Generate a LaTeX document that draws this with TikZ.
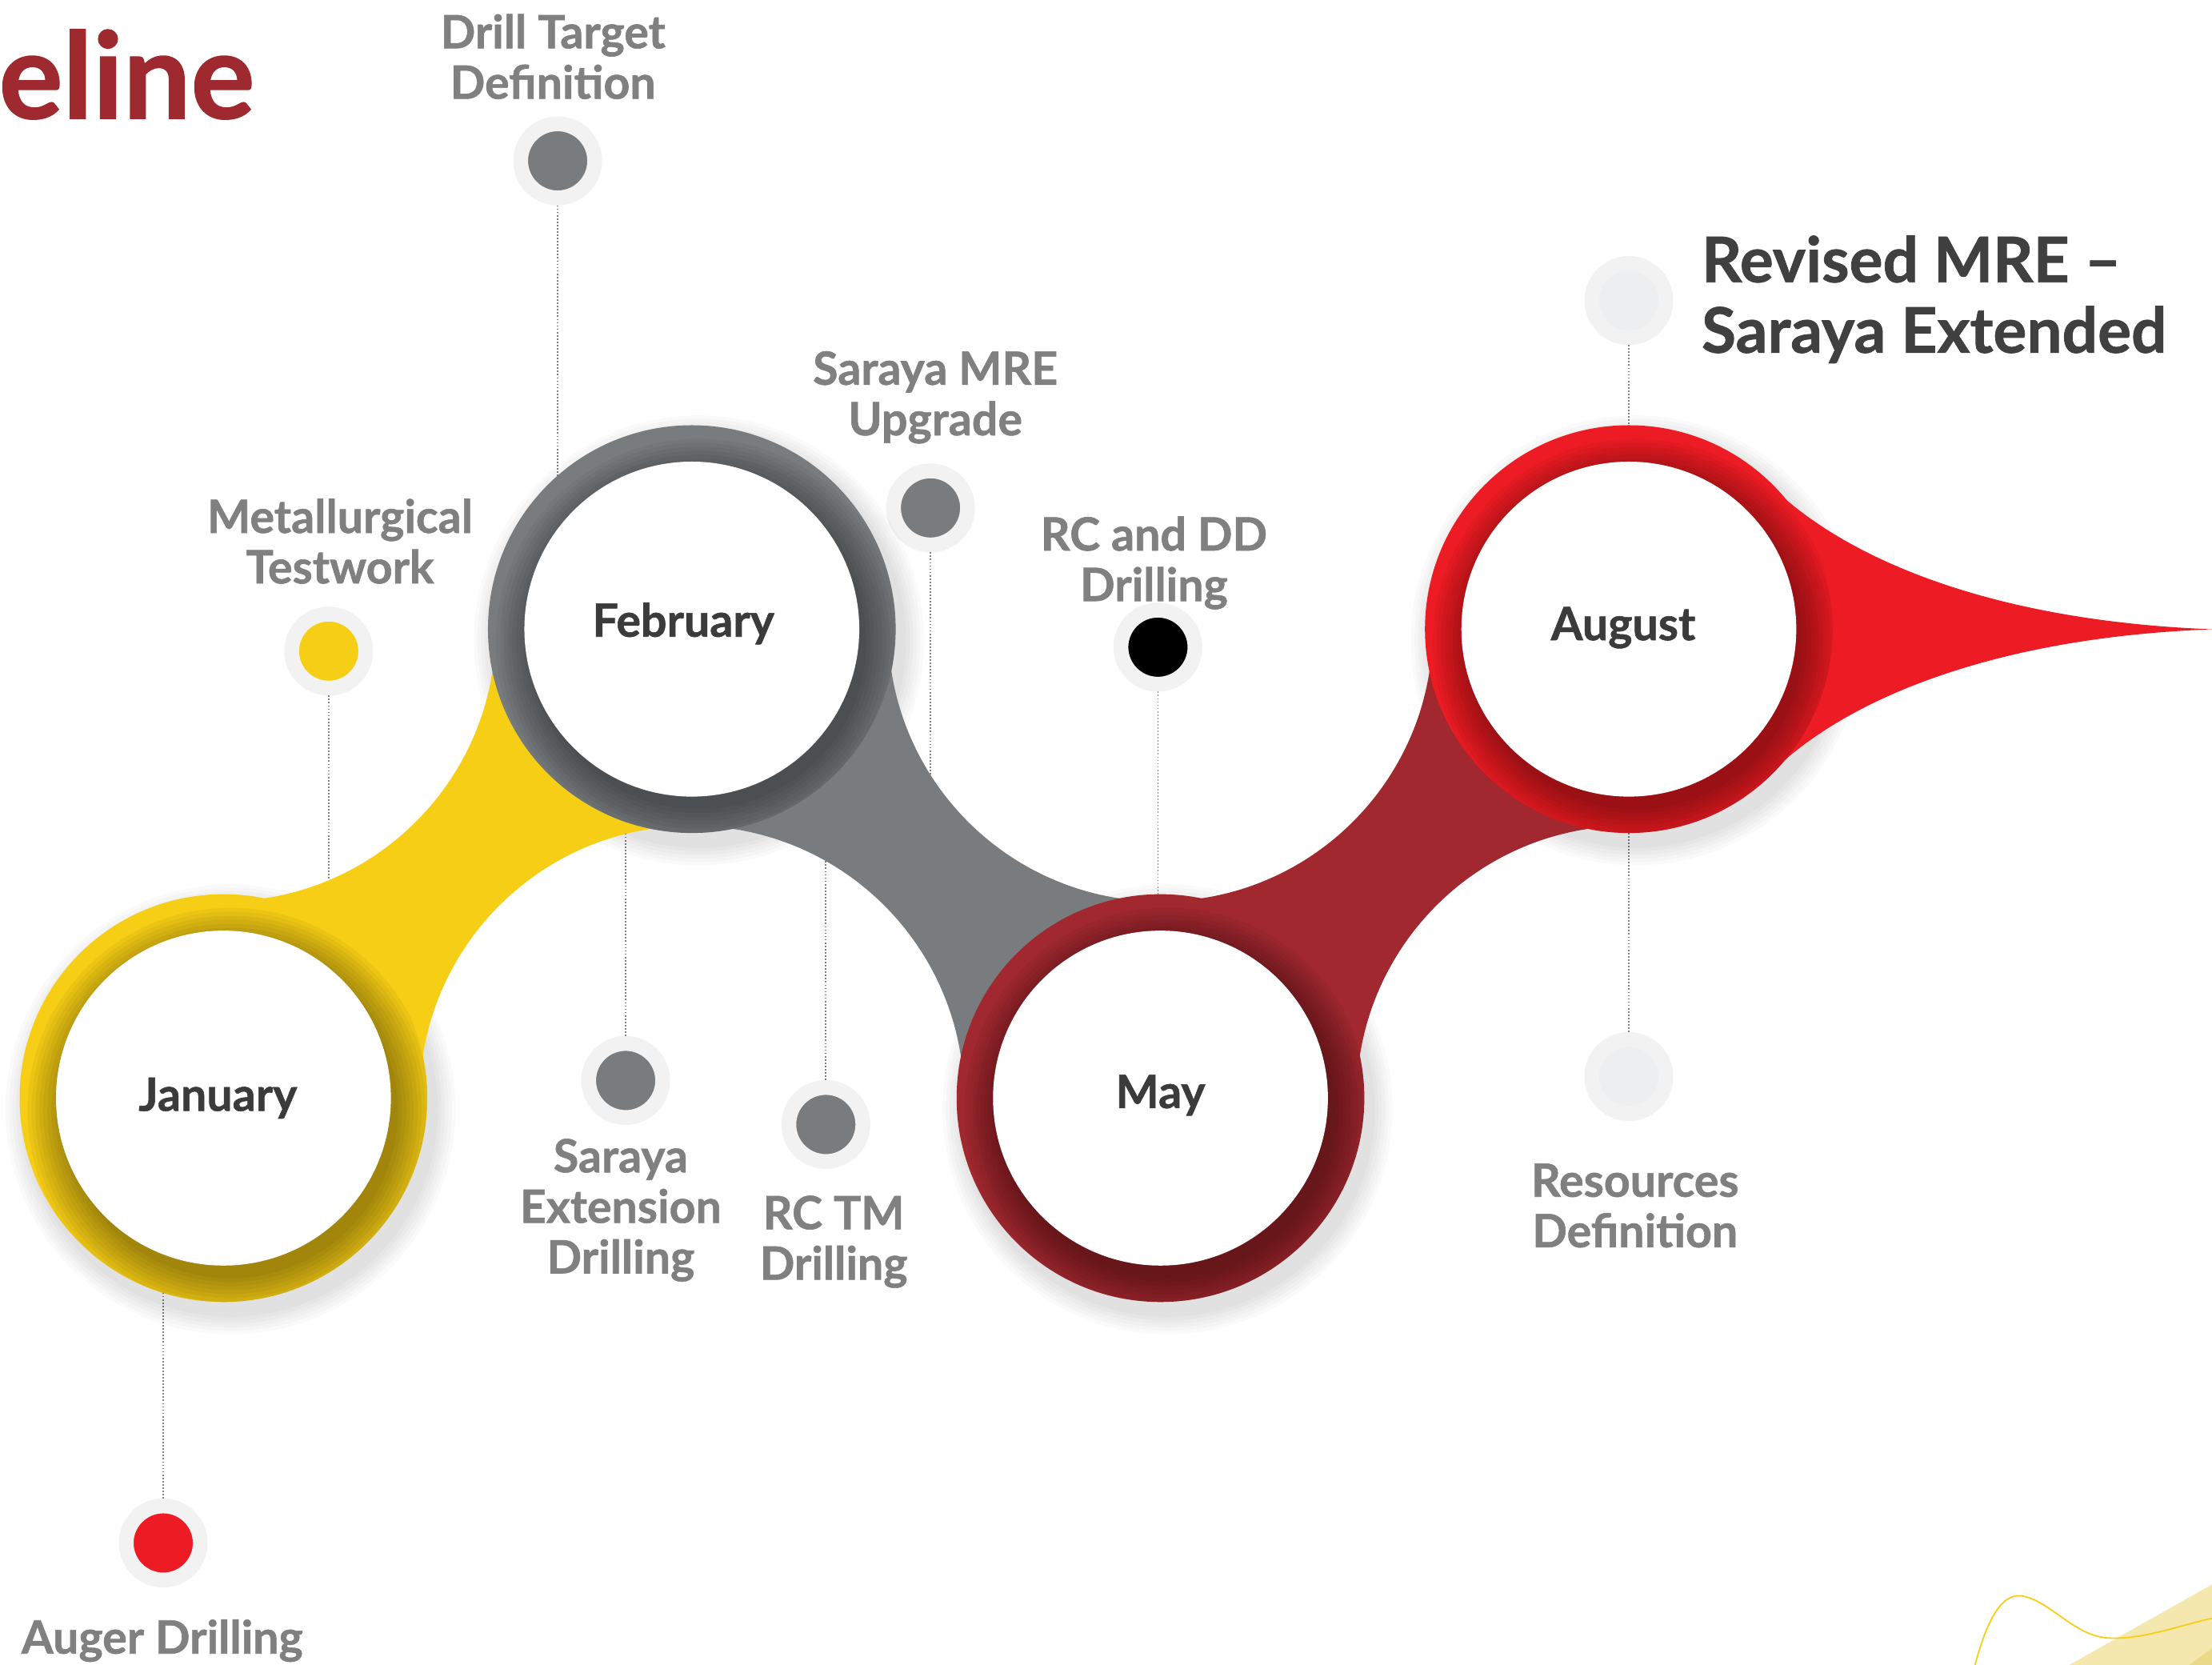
\documentclass[tikz,border=0pt]{standalone}
\usepackage{fontspec}
\setmainfont{Lato}[BoldFeatures={FakeBold=1}]
\usetikzlibrary{calc}
\definecolor{tlyellow}{HTML}{F6CE15}
\definecolor{tlgrey}{HTML}{787C7E}
\definecolor{tlmaroon}{HTML}{A0282E}
\definecolor{tlred}{HTML}{ED1C24}
\definecolor{titlered}{HTML}{9E2A2F}
\definecolor{lblgrey}{HTML}{808080}
\definecolor{monthtext}{HTML}{3B3B3B}
\definecolor{headtext}{HTML}{404040}
\definecolor{halogrey}{HTML}{F2F2F2}
\definecolor{palegrey}{HTML}{EDEEF0}
\definecolor{paleyellow}{HTML}{F4E8AE}
\definecolor{sandyellow}{HTML}{EBD98A}
\tikzset{
	disc/.style={circle,fill=white,minimum size=237.4pt,inner sep=0},
	monthlbl/.style={inner sep=0,text=monthtext,font=\bfseries\fontsize{32.5}{36}\selectfont},
	halo/.style={circle,draw=halogrey,line width=10.5pt,fill=#1,minimum size=52.5pt,inner sep=0},
	lbl/.style={text=lblgrey,align=center,inner sep=0,anchor=base,font=\bfseries\fontsize{32.5}{35.8}\selectfont},
	leader/.style={lblgrey,dash pattern=on 1pt off 1.3pt,line width=1pt}
}
\begin{document}
\begin{tikzpicture}[x=1pt,y=-1pt]
	\def\R{144.5}
	\def\G{193}
	\useasboundingbox (0,0) rectangle (1568,1180);
	\fill[white] (0,0) rectangle (1568,1180);
	\coordinate (jc) at (158.4,778.3);
	\coordinate (fc) at (490.4,445.9);
	\coordinate (mc) at (822.6,778.3);
	\coordinate (ac) at (1154.6,445.9);
	\coordinate (fm) at ($(fc)!.5!(mc)$);
	\node[anchor=base west,inner sep=0,text=titlered,font=\bfseries\fontsize{85}{90}\selectfont] (title) at (-1,84) {eline};
	\node[anchor=base west,inner sep=0,align=left,text=headtext,font=\bfseries\fontsize{44.5}{50}\selectfont] (head) at (1206,250) {Revised MRE –\\Saraya Extended};
	% milestones
	\node[halo=tlred] (auger) at (115.7,1093.6) {};
	\node[halo=tlyellow] (metal) at (233,461.5) {};
	\node[halo=tlgrey] (drill) at (395.3,114) {};
	\node[halo=tlgrey] (sarext) at (443.5,765.8) {};
	\node[halo=tlgrey] (rctm) at (585.4,797) {};
	\node[halo=tlgrey] (sarmre) at (659.6,360) {};
	\node[halo=black] (rcdd) at (820.8,458.7) {};
	\node[halo=palegrey] (revised) at (1154.6,213) {};
	\node[halo=palegrey] (resdef) at (1154.6,763) {};
	\node[lbl] (augerlbl) at (115,1172) {Auger Drilling};
	\node[lbl] (metallbl) at (241,413.5) {Metallurgical\\Testwork};
	\node[lbl] (drilllbl) at (392,70) {Drill Target\\Definition};
	\node[lbl] (sarextlbl) at (440,902.5) {Saraya\\Extension\\Drilling};
	\node[lbl] (rctmlbl) at (591,907) {RC TM\\Drilling};
	\node[lbl] (sarmrelbl) at (663,308.5) {Saraya MRE\\Upgrade};
	\node[lbl] (rcddlbl) at (818,426) {RC and DD\\Drilling};
	\node[lbl] (resdeflbl) at (1159,884) {Resources\\Definition};
	\draw[leader] (auger) -- (auger|-jc);
	\draw[leader] (metal) -- (metal|-jc);
	\draw[leader] (drill) -- (drill|-fc);
	\draw[leader] (sarext) -- (sarext|-fc);
	\draw[leader] (rctm) -- (rctm|-fc);
	\draw[leader] (sarmre) -- (sarmre|-fm);
	\draw[leader] (rcdd) -- (rcdd|-mc);
	\draw[leader] (revised) -- (revised|-ac);
	\draw[leader] (resdef) -- (resdef|-ac);
	\foreach \c in {jc,fc,mc,ac}
		\foreach \k in {1,...,6} \fill[black,opacity=.018] ($(\c)+(5,8)$) circle ({\R+2.5*\k});
	% ribbon
	\foreach \a/\b/\col in {jc/fc/tlyellow,mc/ac/tlmaroon}{
		\fill[\col] ($(\a|-\b)+(0,\G)$) arc[start angle=90,end angle=0,radius=\G] -- (\b) -- ($(\b|-\a)+(0,-\G)$) arc[start angle=270,end angle=180,radius=\G] -- (\a) -- cycle;
	}
	\fill[tlgrey] ($(mc|-fc)+(-\G,0)$) arc[start angle=180,end angle=90,radius=\G] -- (mc) -- ($(fc|-mc)+(\G,0)$) arc[start angle=0,end angle=-90,radius=\G] -- (fc) -- cycle;
	\fill[tlred] (1254,343) .. controls (1306,395) and (1410,440) .. (1568,446) .. controls (1410,452) and (1306,497) .. (1254,549) -- (ac) -- cycle;
	% months
	\foreach \c/\col/\n/\t/\dx/\dy in {jc/tlyellow/jan/January/-4/0,fc/tlgrey/feb/February/-6/-4,mc/tlmaroon/may/May/0/-2,ac/tlred/aug/August/-4/-1}{
		\fill[\col] (\c) circle (\R);
		\begin{scope}
			\clip (\c) circle (\R);
			\foreach \k in {0,...,9} \fill[black,opacity=.04] ($(\c)+(5,9)$) circle ({118.7+2.8*\k});
		\end{scope}
		\node[disc] (\n) at (\c) {};
		\node[monthlbl] (\n txt) at ($(\c)+(\dx,\dy)$) {\t};
	}
	% corner
	\fill[paleyellow] (1467,1180) -- (1568,1123) -- (1568,1180) -- cycle;
	\fill[sandyellow] (1552,1180) -- (1568,1168) -- (1568,1180) -- cycle;
	\draw[tlyellow,line width=1pt] (1400,1180) .. controls (1408,1150) and (1418,1130) .. (1432,1131) .. controls (1452,1133) and (1470,1160) .. (1495,1161) .. controls (1520,1162) and (1545,1152) .. (1568,1147);
\end{tikzpicture}
\end{document}
